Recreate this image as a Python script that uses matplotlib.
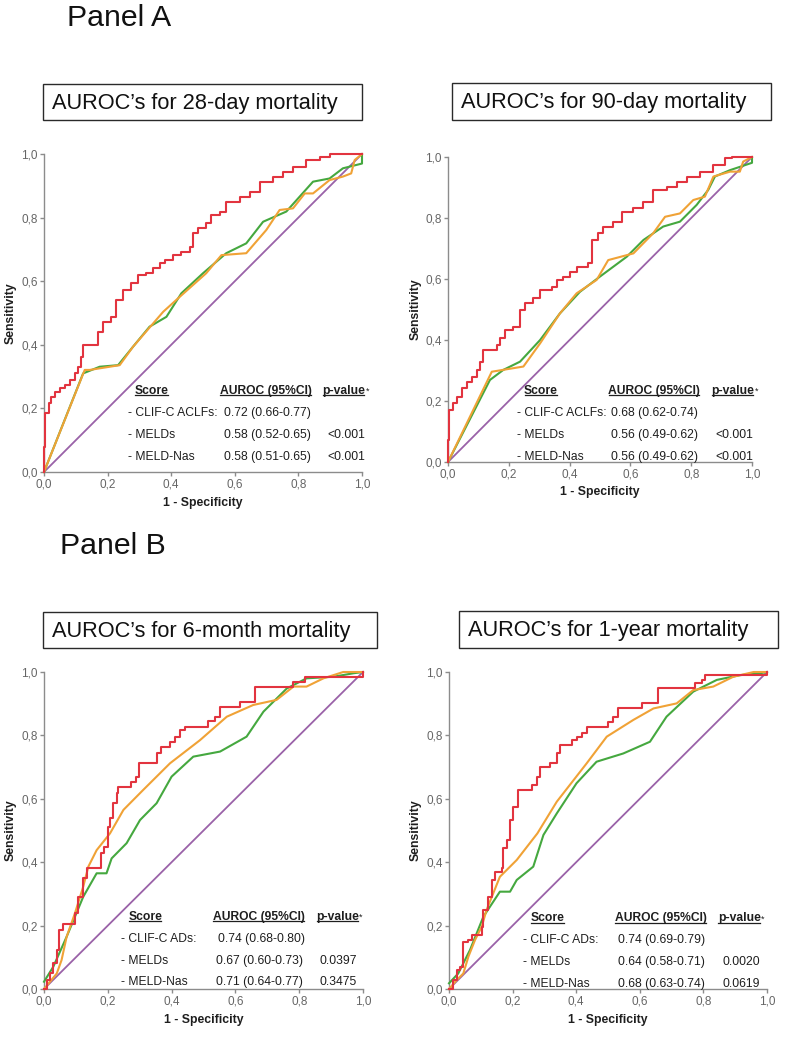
import matplotlib
matplotlib.use('Agg')
import matplotlib.pyplot as plt
from matplotlib.patches import Rectangle
from matplotlib.lines import Line2D

plt.rcParams['font.family'] = ['Liberation Sans', 'DejaVu Sans']

# ---------------- data ----------------
tick_vals = [0.0, 0.2, 0.4, 0.6, 0.8, 1.0]
tick_labels = ['0,0', '0,2', '0,4', '0,6', '0,8', '1,0']

panel_labels = ['Panel A', 'Panel B']
titles = ["AUROC\u2019s for 28-day mortality", "AUROC\u2019s for 90-day mortality",
          "AUROC\u2019s for 6-month mortality", "AUROC\u2019s for 1-year mortality"]

header = ['Score', 'AUROC (95%CI)', 'p-value']
row_names_A = ['- CLIF-C ACLFs:', '- MELDs', '- MELD-Nas']
row_names_B = ['- CLIF-C ADs:', '- MELDs', '- MELD-Nas']
auroc_28d = ['0.72 (0.66-0.77)', '0.58 (0.52-0.65)', '0.58 (0.51-0.65)']
pval_28d = ['', '<0.001', '<0.001']
auroc_90d = ['0.68 (0.62-0.74)', '0.56 (0.49-0.62)', '0.56 (0.49-0.62)']
pval_90d = ['', '<0.001', '<0.001']
auroc_6m = ['0.74 (0.68-0.80)', '0.67 (0.60-0.73)', '0.71 (0.64-0.77)']
pval_6m = ['', '0.0397', '0.3475']
auroc_1y = ['0.74 (0.69-0.79)', '0.64 (0.58-0.71)', '0.68 (0.63-0.74)']
pval_1y = ['', '0.0020', '0.0619']

# 28-day ROC curves
d28_clif_x = [0, 0, 0.004, 0.016, 0.023, 0.034, 0.049, 0.065, 0.081, 0.096, 0.107, 0.117, 0.123,
              0.159, 0.17, 0.186, 0.212, 0.227, 0.248, 0.275, 0.296, 0.322, 0.343, 0.364, 0.379,
              0.406, 0.432, 0.458, 0.468, 0.484, 0.51, 0.526, 0.552, 0.573, 0.615, 0.647, 0.678,
              0.72, 0.752, 0.783, 0.825, 0.867, 0.898, 1.0]
d28_clif_y = [0, 0.08, 0.185, 0.216, 0.237, 0.253, 0.263, 0.274, 0.289, 0.31, 0.331, 0.363, 0.399,
              0.399, 0.441, 0.473, 0.488, 0.541, 0.572, 0.593, 0.619, 0.625, 0.64, 0.656, 0.667,
              0.682, 0.693, 0.709, 0.751, 0.766, 0.782, 0.808, 0.819, 0.85, 0.866, 0.882, 0.913,
              0.929, 0.944, 0.96, 0.981, 0.992, 1.0, 1.0]
d28_meld_x = [0, 0.123, 0.175, 0.233, 0.28, 0.332, 0.385, 0.432, 0.5, 0.573, 0.636, 0.689, 0.762,
              0.804, 0.846, 0.898, 0.94, 1.0, 1.0]
d28_meld_y = [0, 0.31, 0.331, 0.336, 0.394, 0.457, 0.488, 0.562, 0.625, 0.688, 0.719, 0.787, 0.819,
              0.866, 0.913, 0.923, 0.955, 0.97, 1.0]
d28_na_x = [0, 0.128, 0.144, 0.238, 0.28, 0.375, 0.427, 0.51, 0.558, 0.636, 0.699, 0.741, 0.783,
            0.82, 0.846, 0.898, 0.94, 0.966, 0.977, 1.0]
d28_na_y = [0, 0.321, 0.321, 0.336, 0.394, 0.504, 0.551, 0.625, 0.682, 0.688, 0.761, 0.824, 0.829,
            0.876, 0.876, 0.918, 0.929, 0.939, 0.981, 1.0]

# 90-day ROC curves
d90_clif_x = [0, 0, 0.003, 0.018, 0.029, 0.045, 0.061, 0.078, 0.094, 0.105, 0.116, 0.16, 0.171,
              0.188, 0.215, 0.237, 0.253, 0.281, 0.303, 0.341, 0.357, 0.379, 0.401, 0.423, 0.462,
              0.473, 0.495, 0.511, 0.544, 0.571, 0.61, 0.643, 0.675, 0.719, 0.752, 0.785, 0.829,
              0.873, 0.911, 0.933, 1.0]
d90_clif_y = [0, 0.072, 0.17, 0.192, 0.214, 0.242, 0.263, 0.28, 0.302, 0.329, 0.367, 0.384, 0.405,
              0.433, 0.444, 0.498, 0.52, 0.537, 0.564, 0.575, 0.597, 0.608, 0.624, 0.64, 0.651,
              0.728, 0.75, 0.772, 0.788, 0.821, 0.832, 0.854, 0.892, 0.903, 0.919, 0.935, 0.952,
              0.974, 0.996, 1.0, 1.0]
d90_meld_x = [0, 0.138, 0.182, 0.237, 0.303, 0.368, 0.434, 0.5, 0.588, 0.643, 0.708, 0.763, 0.818,
              0.856, 0.878, 0.928, 1.0, 1.0]
d90_meld_y = [0, 0.269, 0.302, 0.329, 0.4, 0.487, 0.558, 0.608, 0.673, 0.728, 0.772, 0.788, 0.843,
              0.892, 0.936, 0.957, 0.981, 1.0]
d90_na_x = [0, 0.144, 0.248, 0.303, 0.368, 0.423, 0.489, 0.527, 0.61, 0.675, 0.714, 0.763, 0.807,
            0.845, 0.873, 0.928, 0.96, 0.971, 1.0]
d90_na_y = [0, 0.296, 0.313, 0.389, 0.487, 0.553, 0.597, 0.662, 0.684, 0.75, 0.804, 0.815, 0.859,
            0.87, 0.936, 0.952, 0.952, 0.985, 1.0]

# 6-month ROC curves
m6_clif_x = [0, 0.008, 0.019, 0.029, 0.04, 0.048, 0.061, 0.087, 0.097, 0.108, 0.123, 0.136, 0.17,
             0.18, 0.188, 0.202, 0.207, 0.217, 0.228, 0.233, 0.264, 0.274, 0.288, 0.299, 0.348,
             0.355, 0.366, 0.385, 0.395, 0.411, 0.426, 0.442, 0.499, 0.515, 0.536, 0.552, 0.599,
             0.614, 0.651, 0.661, 0.771, 0.782, 0.813, 0.818, 1.0, 1.0]
m6_clif_y = [0, 0.028, 0.049, 0.081, 0.123, 0.186, 0.205, 0.205, 0.239, 0.291, 0.349, 0.381, 0.381,
             0.428, 0.449, 0.512, 0.538, 0.586, 0.617, 0.638, 0.638, 0.654, 0.67, 0.712, 0.712,
             0.743, 0.764, 0.764, 0.78, 0.796, 0.817, 0.828, 0.828, 0.844, 0.859, 0.891, 0.891,
             0.906, 0.906, 0.954, 0.954, 0.97, 0.97, 0.985, 0.985, 1.0]
m6_meld_x = [0, 0.029, 0.071, 0.123, 0.165, 0.196, 0.212, 0.259, 0.301, 0.353, 0.4, 0.468, 0.552,
             0.635, 0.688, 0.761, 0.823, 0.907, 0.97, 1.0]
m6_meld_y = [0.023, 0.07, 0.165, 0.291, 0.365, 0.365, 0.412, 0.46, 0.533, 0.586, 0.67, 0.733, 0.749,
             0.796, 0.875, 0.948, 0.98, 0.985, 0.996, 1.0]
m6_na_x = [0, 0.04, 0.055, 0.071, 0.097, 0.123, 0.139, 0.165, 0.207, 0.249, 0.311, 0.395, 0.489,
           0.573, 0.656, 0.729, 0.782, 0.823, 0.876, 0.938, 1.0]
m6_na_y = [0, 0.049, 0.091, 0.165, 0.239, 0.323, 0.386, 0.438, 0.491, 0.565, 0.628, 0.712, 0.785,
           0.859, 0.896, 0.912, 0.954, 0.954, 0.98, 1.0, 1.0]

# 1-year ROC curves
y1_clif_x = [0, 0.014, 0.024, 0.035, 0.045, 0.061, 0.071, 0.092, 0.103, 0.108, 0.124, 0.134, 0.145,
             0.166, 0.171, 0.181, 0.192, 0.202, 0.218, 0.249, 0.26, 0.276, 0.286, 0.318, 0.339,
             0.349, 0.37, 0.386, 0.401, 0.417, 0.433, 0.485, 0.501, 0.517, 0.532, 0.59, 0.606,
             0.643, 0.658, 0.758, 0.774, 0.795, 0.805, 0.978, 1.0]
y1_clif_y = [0, 0.028, 0.06, 0.07, 0.149, 0.155, 0.17, 0.17, 0.197, 0.249, 0.291, 0.344, 0.37,
             0.381, 0.444, 0.47, 0.533, 0.575, 0.628, 0.628, 0.644, 0.67, 0.701, 0.712, 0.743,
             0.77, 0.77, 0.785, 0.796, 0.807, 0.828, 0.828, 0.843, 0.859, 0.885, 0.885, 0.901,
             0.901, 0.948, 0.948, 0.964, 0.975, 0.99, 0.99, 1.0]
y1_meld_x = [0, 0.029, 0.066, 0.108, 0.16, 0.192, 0.213, 0.265, 0.297, 0.339, 0.401, 0.464, 0.548,
             0.632, 0.684, 0.768, 0.842, 0.915, 0.978, 1.0]
y1_meld_y = [0.018, 0.049, 0.123, 0.228, 0.307, 0.307, 0.344, 0.386, 0.486, 0.554, 0.649, 0.717,
             0.743, 0.78, 0.859, 0.938, 0.975, 0.99, 0.996, 1.0]
y1_na_x = [0, 0.024, 0.045, 0.061, 0.082, 0.103, 0.118, 0.16, 0.213, 0.278, 0.339, 0.433, 0.496,
           0.58, 0.643, 0.716, 0.768, 0.831, 0.894, 0.958, 1.0]
y1_na_y = [0, 0.028, 0.049, 0.102, 0.155, 0.197, 0.249, 0.354, 0.407, 0.491, 0.591, 0.712, 0.796,
           0.849, 0.885, 0.901, 0.943, 0.954, 0.985, 1.0, 1.0]

# ---------------- style ----------------
C_CLIF = '#e2343f'
C_MELD = '#45a83f'
C_NA = '#f0a236'
C_DIAG = '#9a62a8'
C_SPINE = '#8c8c8c'
C_TICK = '#666666'
C_TEXT = '#1e1e1e'

W, H = 787, 1049
fig = plt.figure(figsize=(W / 100, H / 100), dpi=100)


def fx(px):
    return px / W


def fy(py):
    return 1 - py / H


panels = [
    dict(ax=(44, 154, 362, 472), box=(43, 84, 362, 120), title=titles[0],
         curves=((d28_meld_x, d28_meld_y, False), (d28_na_x, d28_na_y, False), (d28_clif_x, d28_clif_y, True)),
         names=row_names_A, auroc=auroc_28d, pval=pval_28d,
         hy=0.256, ry=(0.185, 0.116, 0.048), sx=0.286, nx=0.265, ax_h=0.553, vx=(0.565, 0.565, 0.565),
         phx=0.876, px=0.892),
    dict(ax=(448, 157, 752, 462), box=(452, 83, 771, 120), title=titles[1],
         curves=((d90_meld_x, d90_meld_y, False), (d90_na_x, d90_na_y, False), (d90_clif_x, d90_clif_y, True)),
         names=row_names_A, auroc=auroc_90d, pval=pval_90d,
         hy=0.234, ry=(0.16, 0.089, 0.017), sx=0.25, nx=0.226, ax_h=0.527, vx=(0.536, 0.536, 0.536),
         phx=0.867, px=0.878),
    dict(ax=(44, 672, 363, 989), box=(43, 612, 377, 648), title=titles[2],
         curves=((m6_meld_x, m6_meld_y, False), (m6_na_x, m6_na_y, False), (m6_clif_x, m6_clif_y, True)),
         names=row_names_B, auroc=auroc_6m, pval=pval_6m,
         hy=0.228, ry=(0.157, 0.089, 0.021), sx=0.264, nx=0.24, ax_h=0.529, vx=(0.545, 0.539, 0.539),
         phx=0.853, px=0.863),
    dict(ax=(449, 672, 767, 989), box=(459, 611, 778, 648), title=titles[3],
         curves=((y1_meld_x, y1_meld_y, False), (y1_na_x, y1_na_y, False), (y1_clif_x, y1_clif_y, True)),
         names=row_names_B, auroc=auroc_1y, pval=pval_1y,
         hy=0.223, ry=(0.155, 0.086, 0.016), sx=0.257, nx=0.234, ax_h=0.522, vx=(0.532, 0.532, 0.532),
         phx=0.845, px=0.86),
]

colors = [C_MELD, C_NA, C_CLIF]
FS_TAB = 8.7
underline_texts = []

for p in panels:
    l, t, r, b = p['ax']
    ax = fig.add_axes([fx(l), fy(b), (r - l) / W, (b - t) / H])
    ax.set_xlim(0, 1)
    ax.set_ylim(0, 1)
    for s in ('top', 'right'):
        ax.spines[s].set_visible(False)
    for s in ('left', 'bottom'):
        ax.spines[s].set_color(C_SPINE)
        ax.spines[s].set_linewidth(1.0)
    ax.set_xticks(tick_vals)
    ax.set_xticklabels(tick_labels)
    ax.set_yticks(tick_vals)
    ax.set_yticklabels(tick_labels)
    ax.tick_params(axis='both', direction='out', length=3, width=1.0, color=C_SPINE,
                   labelcolor=C_TICK, labelsize=8.5, pad=1.5)

    ax.plot([0, 1], [0, 1], color=C_DIAG, lw=1.3, clip_on=False, zorder=2)
    for (cx, cy, step), col in zip(p['curves'], colors):
        if step:
            ax.step(cx, cy, where='post', color=col, lw=1.5, clip_on=False, zorder=4)
        else:
            ax.plot(cx, cy, color=col, lw=1.5, clip_on=False, zorder=3)

    ax.text(-0.105, 0.5, 'Sensitivity', rotation=90, transform=ax.transAxes, ha='center',
            va='center', fontsize=8.8, fontweight='bold', color=C_TEXT)
    ax.text(0.5, -0.098, '1 - Specificity', transform=ax.transAxes, ha='center',
            va='center', fontsize=8.8, fontweight='bold', color=C_TEXT)

    # table
    h1 = ax.text(p['sx'], p['hy'], header[0], transform=ax.transAxes, ha='left', va='center',
                 fontsize=FS_TAB, fontweight='bold', color=C_TEXT)
    h2 = ax.text(p['ax_h'], p['hy'], header[1], transform=ax.transAxes, ha='left', va='center',
                 fontsize=FS_TAB, fontweight='bold', color=C_TEXT)
    h3 = ax.text(p['phx'], p['hy'], header[2], transform=ax.transAxes, ha='left', va='center',
                 fontsize=FS_TAB, fontweight='bold', color=C_TEXT)
    underline_texts += [h1, h2, h3]
    p['h3'] = h3
    for i in range(3):
        ax.text(p['nx'], p['ry'][i], p['names'][i], transform=ax.transAxes, ha='left', va='center',
                fontsize=FS_TAB, color=C_TEXT)
        ax.text(p['vx'][i], p['ry'][i], p['auroc'][i], transform=ax.transAxes, ha='left',
                va='center', fontsize=FS_TAB, color=C_TEXT)
        if p['pval'][i]:
            ax.text(p['px'], p['ry'][i], p['pval'][i], transform=ax.transAxes, ha='left',
                    va='center', fontsize=FS_TAB, color=C_TEXT)

    # title box
    bl, bt, br, bb = p['box']
    fig.patches.append(Rectangle((fx(bl), fy(bb)), (br - bl) / W, (bb - bt) / H,
                                 transform=fig.transFigure, fill=False, edgecolor='#2a2a2a',
                                 lw=1.0))
    fig.text(fx(bl + 9), fy((bt + bb) / 2 + 1), p['title'], ha='left', va='center',
             fontsize=15.7, color='#111111')

fig.text(fx(67), fy(18), panel_labels[0], ha='left', va='center', fontsize=21.8, color='#111111')
fig.text(fx(60), fy(546), panel_labels[1], ha='left', va='center', fontsize=21.8, color='#111111')

# underlines and asterisks
fig.canvas.draw()
renderer = fig.canvas.get_renderer()
inv = fig.transFigure.inverted()
for t in underline_texts:
    bb = t.get_window_extent(renderer)
    (x0, y0), (x1, y1) = inv.transform([(bb.x0 + 0.5, bb.y0 + 1.5), (bb.x1 - 1.0, bb.y0 + 1.5)])
    fig.lines.append(Line2D([x0, x1], [y0, y1], transform=fig.transFigure, color=C_TEXT, lw=0.9))
for p in panels:
    bb = p['h3'].get_window_extent(renderer)
    x, y = inv.transform((bb.x1 + 0.3, bb.y1 - 2))
    fig.text(x, y, '*', ha='left', va='top', fontsize=6.5, color=C_TEXT)

fig.savefig('out.png', dpi=100)
